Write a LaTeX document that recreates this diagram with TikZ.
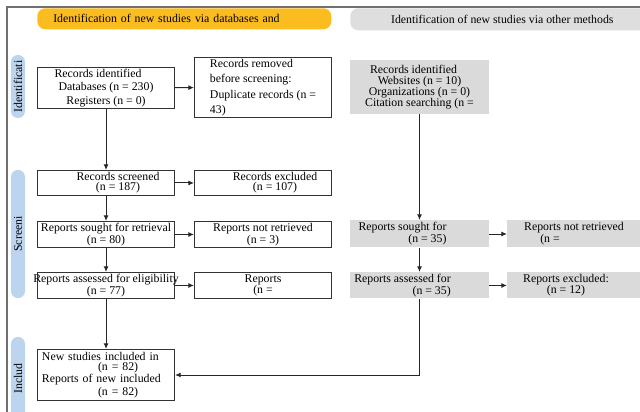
\documentclass[tikz,border=0pt]{standalone}
\usepackage{fontspec}
\setmainfont{Liberation Serif}
\usepackage{tikz}
\usetikzlibrary{arrows.meta, positioning, calc}
\definecolor{oranyeJudul}{RGB}{251,188,32}
\definecolor{abuJudul}{RGB}{222,222,222}
\definecolor{abuKotak}{RGB}{218,218,218}
\definecolor{biruFase}{RGB}{189,212,238}
\definecolor{abuBingkai}{RGB}{112,112,112}
\newcommand{\sebaris}[1]{\makebox[2cm]{#1}}

\begin{document}
\begin{tikzpicture}[x=0.025cm, y=-0.025cm,
  font=\fontsize{8.4}{7.2}\selectfont,
  kotak/.style={draw=black!80, line width=0.7pt, fill=white, minimum width=3.425cm, anchor=north west, inner sep=1pt, align=center},
  kotakAbu/.style={kotak, draw=none, fill=abuKotak, minimum width=3.45cm},
  kotakAbuK/.style={kotakAbu, minimum width=3.325cm},
  fase/.style={fill=biruFase, rounded corners=0.17cm, rotate=90, minimum height=0.35cm, inner sep=0pt},
  panah/.style={-{Latex[length=4pt,width=3.5pt]}, line width=0.7pt, black!85},
]
  \useasboundingbox (0,0) rectangle (640,412);
  \draw[abuBingkai, line width=1pt] (7,412) -- (7,7) -- (640,7);

  % judul kolom
  \node[fill=oranyeJudul, rounded corners=0.2cm, anchor=north west, minimum height=0.525cm,
        text width=6.55cm, inner xsep=0.4cm, align=left] at (37,8) (judulA)
        {Identification of new studies via databases and};
  \node[fill=abuJudul, rounded corners=0.2cm, anchor=north west, minimum height=0.55cm,
        minimum width=7.6cm] at (350,8) (judulB)
        {Identification of new studies via other methods};

  % fase
  \node[fase, minimum width=1.575cm] at (18,86.5) (faseA) {Identificati};
  \node[fase, minimum width=3.2cm] at (18,234) (faseB) {Screeni};
  \node[fase, minimum width=2.075cm] at (18,378.5) (faseC) {Includ};

  % kolom kiri
  \node[kotak, minimum height=1cm, font=\fontsize{8.4}{9.6}\selectfont] at (37,67) (ids)
       {Records identified\hspace*{0.4cm}\\Databases (n = 230)\\Registers (n = 0)};
  \node[kotak, minimum height=1.475cm, align=left, font=\fontsize{8.4}{11}\selectfont] at (194,57) (rem)
       {Records removed\\before screening:\\Duplicate records (n =\\43)};
  \node[kotak, minimum height=0.625cm] at (37,170) (scr)
       {\hspace*{0.6cm}Records screened\\\hspace*{0.6cm}(n = 187)};
  \node[kotak, minimum height=0.625cm] at (194,170) (exc)
       {\hspace*{0.6cm}Records excluded\\\hspace*{0.6cm}(n = 107)};
  \node[kotak, minimum height=0.65cm] at (37,221) (sgt)
       {\sebaris{Reports sought for retrieval}\\(n = 80)};
  \node[kotak, minimum height=0.65cm] at (194,221) (ntr)
       {Reports not retrieved\\(n = 3)};
  \node[kotak, minimum height=0.65cm] at (37,272) (ass)
       {\sebaris{Reports assessed for eligibility}\\(n = 77)};
  \node[kotak, minimum height=0.65cm, font=\fontsize{8.4}{7.8}\selectfont] at (194,272) (rpx)
       {Reports\\(n =};
  \node[kotak, minimum height=1.275cm, text width=3.2cm, align=left] at (37,349) (inc)
       {New studies included in\\\hspace*{1.4cm}(n = 82)\\Reports of new included\\\hspace*{1.4cm}(n = 82)};

  % kolom kanan
  \node[kotakAbu, minimum height=1.325cm, font=\fontsize{8.4}{7.8}\selectfont] at (350,60) (oth)
       {Records identified\hspace*{0.3cm}\\Websites (n = 10)\\Organizations (n = 0)\\Citation searching (n =};
  \node[kotakAbu, minimum height=0.675cm, align=right, font=\fontsize{8.4}{8.5}\selectfont] at (350,220) (gsg)
       {Reports sought for\hspace*{0.85cm}\\(n = 35)\hspace*{0.85cm}};
  \node[kotakAbuK, minimum height=0.675cm, font=\fontsize{8.4}{7.4}\selectfont] at (507,220) (gnr)
       {Reports not retrieved\\(n =\hspace*{1.2cm}};
  \node[kotakAbu, minimum height=0.65cm, align=right, font=\fontsize{8.4}{8}\selectfont] at (350,272) (gas)
       {Reports assessed for\hspace*{0.85cm}\\(n = 35)\hspace*{0.85cm}};
  \node[kotakAbuK, minimum height=0.65cm, font=\fontsize{8.4}{8}\selectfont] at (507,272) (gex)
       {Reports excluded:\hspace*{0.4cm}\\(n = 12)\hspace*{0.4cm}};

  % panah
  \draw[panah] (ids) -- (rem);
  \draw[panah] (ids) -- (scr);
  \draw[panah] (scr) -- (exc);
  \draw[panah] (scr) -- (sgt);
  \draw[panah] (sgt) -- (ntr);
  \draw[panah] (sgt) -- (ass);
  \draw[panah] (ass) -- (rpx);
  \draw[panah] (ass) -- (inc);
  \draw[panah] (oth) -- (gsg);
  \draw[panah] (gsg) -- (gnr);
  \draw[panah] (gsg) -- (gas);
  \draw[panah] (gas) -- (gex);
  \draw[panah] (gas.south) |- (inc.east);
\end{tikzpicture}
\end{document}
